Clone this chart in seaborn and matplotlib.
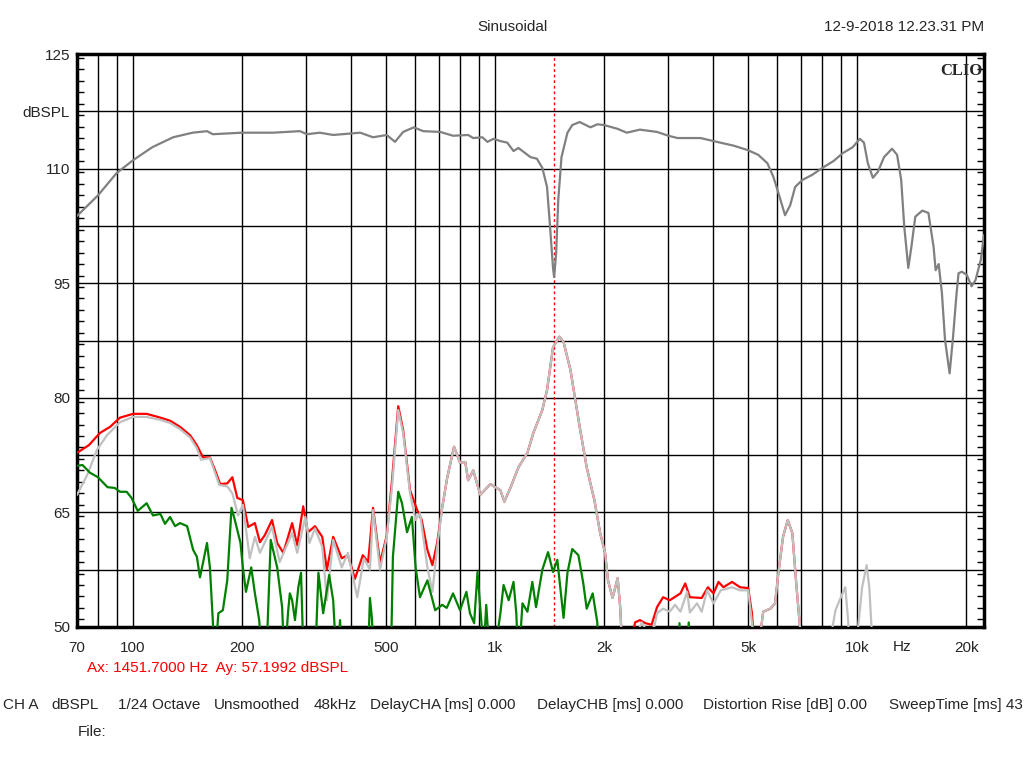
import numpy as np
import pandas as pd
import matplotlib
matplotlib.use('Agg')
import matplotlib.pyplot as plt
import seaborn as sns
from matplotlib.ticker import MultipleLocator, LogLocator, NullFormatter, FixedLocator

# Fundamental (dark gray)
fund_freq = [70, 80, 90, 100, 113, 129, 146, 160, 166, 200, 243, 289, 302, 328, 357, 424, 460,
             502, 529, 557, 596, 633, 705, 765, 842, 870, 922, 952, 990, 1034, 1080, 1124, 1160,
             1252, 1304, 1350, 1391, 1418, 1445, 1455, 1474, 1494, 1525, 1584, 1633, 1712, 1833,
             1915, 2000, 2180, 2310, 2510, 2800, 3010, 3190, 3690, 4010, 4560, 5000, 5330, 5650,
             5870, 6060, 6320, 6530, 6740, 7050, 7520, 8020, 8610, 9110, 9720, 10170, 10440,
             10700, 11050, 11410, 11860, 12480, 12890, 13230, 13490, 13840, 14110, 14470, 15130,
             15730, 16260, 16470, 16790, 17140, 17480, 18000, 18400, 18800, 19050, 19450, 20070,
             20700, 21220, 21940, 22400]
fund_db = [103.8, 106.5, 109.4, 111.1, 112.8, 114.1, 114.7, 114.9, 114.5, 114.7, 114.7, 114.9,
           114.5, 114.7, 114.4, 114.7, 114.1, 114.4, 113.5, 114.8, 115.4, 114.9, 114.8, 114.3,
           114.4, 114.0, 114.1, 113.5, 113.9, 113.6, 113.4, 112.3, 112.7, 111.5, 111.3, 110.1,
           107.6, 102.4, 97.0, 95.8, 98.9, 105.9, 111.5, 114.7, 115.7, 116.1, 115.4, 115.8, 115.7,
           115.2, 114.7, 115.1, 114.8, 114.3, 114.0, 114.0, 113.6, 113.0, 112.4, 111.8, 110.7,
           108.9, 106.8, 103.9, 105.2, 107.6, 108.5, 109.2, 110.1, 111.0, 112.0, 112.8, 113.9,
           113.4, 110.7, 108.8, 109.6, 111.5, 112.6, 111.8, 108.5, 102.4, 97.0, 99.7, 103.7,
           104.5, 104.2, 99.7, 96.7, 97.5, 93.7, 87.6, 83.2, 88.0, 93.5, 96.3, 96.5, 96.1, 94.6,
           95.4, 98.0, 101.3]

# segment where red and light gray overlap
shared_freq = [714, 737, 770, 800, 827, 842, 870, 910, 970, 1034, 1060, 1104, 1160, 1228, 1275,
               1350, 1391, 1445, 1505, 1545, 1615, 1712, 1790, 1880, 1950, 2012, 2050, 2110,
               2180, 2215, 2240, 2300]
shared_db = [65.6, 69.5, 73.6, 71.5, 71.6, 69.2, 70.5, 67.3, 68.7, 67.9, 66.4, 68.3, 70.9, 72.8,
             75.4, 78.4, 81.0, 86.6, 88.0, 87.3, 83.6, 76.2, 70.9, 66.6, 62.3, 59.7, 56.1, 53.8,
             56.4, 52.6, 48.0, 45.0]

hump_freq = [5400, 5500, 5760, 5930, 6060, 6240, 6430, 6620, 6800, 6950, 7100]
hump_db = [49.0, 52.0, 52.4, 53.1, 57.1, 61.8, 64.0, 62.3, 55.2, 50.0, 45.0]

# Red
red_lo_freq = [70, 75.5, 81, 86.4, 92, 100, 109, 119, 126.5, 134.8, 143.7, 150, 156, 163, 168.5,
               174, 182, 188, 194, 201, 208, 217, 224, 231, 242, 250, 260, 275, 284, 295, 304,
               318, 333, 343, 357, 377, 392, 410, 431, 446, 460, 481, 502, 519, 540, 557, 582,
               609, 627, 650, 671, 692]
red_lo_db = [72.8, 73.8, 75.4, 76.2, 77.4, 77.9, 77.9, 77.4, 77.0, 76.2, 75.1, 73.8, 72.2, 72.2,
             70.5, 68.7, 68.8, 69.6, 66.9, 66.6, 63.1, 63.6, 61.1, 62.0, 64.0, 61.0, 59.7, 63.6,
             60.7, 65.8, 62.4, 63.2, 61.8, 57.5, 61.8, 59.0, 59.4, 56.3, 59.4, 58.5, 65.6, 58.4,
             62.0, 69.2, 78.9, 75.8, 67.9, 65.3, 64.0, 60.1, 58.1, 61.1]
red_hi_freq = [2380, 2435, 2510, 2600, 2705, 2800, 2910, 3035, 3250, 3350, 3450, 3720, 3870,
               4010, 4140, 4270, 4510, 4750, 5000, 5120, 5250]
red_hi_db = [48.0, 50.6, 50.9, 50.5, 50.3, 52.6, 53.9, 53.5, 54.4, 55.7, 53.9, 53.8, 55.2, 54.4,
             55.9, 55.2, 55.9, 55.2, 55.1, 51.8, 45.0]

# Light gray
gray_lo_freq = [70, 74.7, 79.5, 84.7, 92, 100, 109, 119, 126.5, 134.8, 143.7, 150, 154, 163, 173,
                182, 188, 195, 201, 210, 217, 224, 242, 254, 275, 284, 299, 307, 318, 333, 343,
                357, 377, 392, 416, 434, 451, 460, 481, 502, 519, 540, 557, 582, 603, 620, 650,
                671, 692]
gray_lo_db = [67.3, 69.9, 73.2, 75.1, 76.8, 77.5, 77.5, 77.1, 76.7, 75.9, 74.8, 73.4, 71.9, 72.1,
              68.6, 68.4, 67.5, 64.6, 66.0, 59.0, 61.8, 59.7, 63.1, 58.5, 62.3, 59.7, 64.4, 61.0,
              62.9, 60.5, 53.5, 61.4, 57.8, 59.7, 53.9, 59.0, 57.5, 65.3, 57.5, 61.8, 68.3, 78.4,
              75.4, 67.5, 64.0, 64.9, 57.8, 54.6, 60.5]
gray_hi_freq = [2400, 2460, 2540, 2620, 2750, 2800, 2910, 3035, 3140, 3250, 3390, 3450, 3610,
                3720, 3850, 4010, 4200, 4510, 4750, 5000, 5120, 5250]
gray_hi_db = [45.0, 49.0, 50.6, 49.5, 50.0, 51.8, 52.4, 52.0, 52.9, 52.0, 54.6, 51.9, 53.1, 52.0,
              54.8, 53.1, 54.8, 55.2, 54.8, 54.8, 50.6, 45.0]
gray_top_freq = [8400, 8550, 8710, 8940, 9270, 9440, 9550, 9950, 10060, 10320, 10620, 10800,
                 10950, 11100]
gray_top_db = [45.0, 50.0, 52.2, 53.5, 55.2, 50.9, 45.0, 45.0, 50.0, 55.2, 58.1, 55.2, 50.0, 45.0]

# Green
green_freq = [70, 72.5, 76, 80, 85, 89, 92, 96, 99, 103, 109, 113.5, 119, 122.5, 126.5, 130.6,
              134.8, 141, 146.5, 150, 153, 156, 160, 163, 166, 168, 172, 177, 182, 187, 191, 198,
              201, 205, 212, 217, 223, 228, 233, 240, 250, 258, 262, 268, 271, 275, 280, 286, 291,
              296, 318, 325, 335, 348, 357, 365, 373, 378, 445, 451, 457, 462, 515, 522, 540, 553,
              571, 589, 603, 620, 650, 683, 714, 735, 765, 800, 833, 852, 875, 894, 915, 930, 945,
              960, 1000, 1034, 1055, 1090, 1124, 1144, 1160, 1190, 1228, 1267, 1297, 1350, 1400,
              1445, 1485, 1545, 1584, 1633, 1698, 1752, 1790, 1860, 1915, 1930, 3200, 3230, 3260,
              3400, 3425, 3450]
green_db = [71.1, 71.2, 70.2, 69.6, 68.3, 68.2, 67.7, 67.7, 66.9, 65.2, 66.2, 64.6, 64.8, 63.5,
            64.4, 63.2, 63.6, 63.2, 60.1, 59.2, 56.5, 58.4, 61.0, 57.8, 50.9, 45.0, 51.8, 52.2,
            56.1, 65.6, 64.0, 61.0, 57.8, 54.6, 57.8, 54.4, 50.9, 45.0, 45.0, 61.4, 57.8, 52.6,
            45.0, 52.0, 54.4, 53.5, 50.9, 55.2, 57.1, 45.0, 45.0, 57.1, 51.8, 56.8, 53.5, 45.0,
            50.9, 45.0, 45.0, 53.8, 51.0, 45.0, 45.0, 59.2, 67.7, 66.2, 62.4, 64.4, 57.8, 53.9,
            56.1, 52.2, 52.9, 52.5, 54.4, 52.2, 54.6, 51.8, 50.5, 57.2, 51.0, 47.0, 52.9, 48.0,
            47.0, 51.8, 55.5, 53.5, 55.9, 51.8, 45.0, 53.1, 52.0, 55.9, 52.6, 57.5, 59.8, 57.2,
            58.8, 51.2, 57.1, 60.2, 59.4, 55.7, 52.4, 54.4, 50.6, 45.0, 45.0, 50.5, 45.0, 45.0,
            50.6, 45.0]

cursor_freq = 1451.7
x_tick_vals = [70, 100, 200, 500, 1000, 2000, 5000, 10000, 20000]
x_tick_labels = ['70', '100', '200', '500', '1k', '2k', '5k', '10k', '20k']
y_grid_vals = [50, 57.5, 65, 72.5, 80, 87.5, 95, 102.5, 110, 117.5, 125]
y_grid_labels = ['50', '', '65', '', '80', '', '95', '', '110', 'dBSPL', '125']

sns.set_style('white')
plt.rcParams['font.family'] = ['Liberation Sans', 'DejaVu Sans']
plt.rcParams['font.size'] = 11

fig = plt.figure(figsize=(10.24, 7.68), dpi=100)
ax = fig.add_axes([77 / 1024, 1 - 627 / 768, (984 - 77) / 1024, (627 - 54) / 768])
ax.set_xscale('log')

ax.axvline(cursor_freq, color='red', lw=1, ls=(0, (2, 2)), zorder=2)

red_freq = red_lo_freq + shared_freq + red_hi_freq + hump_freq
red_db = red_lo_db + shared_db + red_hi_db + hump_db
gray_freq = gray_lo_freq + shared_freq + gray_hi_freq + hump_freq + gray_top_freq
gray_db = gray_lo_db + shared_db + gray_hi_db + hump_db + gray_top_db

lw = 1.6
sns.lineplot(x=red_freq, y=red_db, ax=ax, color='#ff0000', lw=lw, estimator=None, sort=False, zorder=3)
sns.lineplot(x=gray_freq, y=gray_db, ax=ax, color='#c0c0c0', lw=lw, estimator=None, sort=False, zorder=4)
sns.lineplot(x=green_freq, y=green_db, ax=ax, color='#008000', lw=lw, estimator=None, sort=False, zorder=5)
sns.lineplot(x=fund_freq, y=fund_db, ax=ax, color='#808080', lw=lw, estimator=None, sort=False, zorder=6)

ax.set_xlim(70, 22400)
ax.set_ylim(50, 125)

ax.xaxis.set_major_locator(FixedLocator(x_tick_vals))
ax.set_xticklabels(x_tick_labels)
ax.xaxis.set_minor_locator(LogLocator(base=10, subs=np.arange(1, 10), numticks=30))
ax.xaxis.set_minor_formatter(NullFormatter())
ax.set_yticks(y_grid_vals)
ax.set_yticklabels(y_grid_labels)
ax.yaxis.set_minor_locator(MultipleLocator(1.5))

ax.grid(which='both', axis='x', color='black', lw=1)
ax.grid(which='major', axis='y', color='black', lw=1)
ax.tick_params(axis='x', which='both', length=0, pad=10, labelsize=11)
ax.tick_params(axis='y', which='major', length=0, pad=5, labelsize=11)
ax.tick_params(axis='y', which='minor', direction='in', length=5, width=1,
               left=True, right=True, color='black')
for s in ax.spines.values():
    s.set_linewidth(2.5)
    s.set_color('black')
ax.set_xlabel('')
ax.set_ylabel('')

ax.text(0.998, 0.985, 'CLIO', transform=ax.transAxes, ha='right', va='top',
        fontsize=12, fontweight='bold', family=['Liberation Serif', 'DejaVu Serif'])

fig.text(512 / 1024, 1 - 27 / 768, 'Sinusoidal', ha='center', va='center', fontsize=11)
fig.text(984 / 1024, 1 - 27 / 768, '12-9-2018 12.23.31 PM', ha='right', va='center', fontsize=11)
fig.text(902 / 1024, 1 - 647 / 768, 'Hz', ha='center', va='center', fontsize=11)
fig.text(87 / 1024, 1 - 668 / 768, 'Ax: 1451.7000 Hz  Ay: 57.1992 dBSPL', ha='left', va='center',
         fontsize=11, color='red')

info_x = [3, 51, 118, 214, 314, 370, 537, 703, 889]
info_txt = ['CH A', 'dBSPL', '1/24 Octave', 'Unsmoothed', '48kHz', 'DelayCHA [ms] 0.000',
            'DelayCHB [ms] 0.000', 'Distortion Rise [dB] 0.00', 'SweepTime [ms] 43']
for x, t in zip(info_x, info_txt):
    fig.text(x / 1024, 1 - 705 / 768, t, ha='left', va='center', fontsize=11)
fig.text(78 / 1024, 1 - 732 / 768, 'File:', ha='left', va='center', fontsize=11)

fig.savefig('out.png', dpi=100)
